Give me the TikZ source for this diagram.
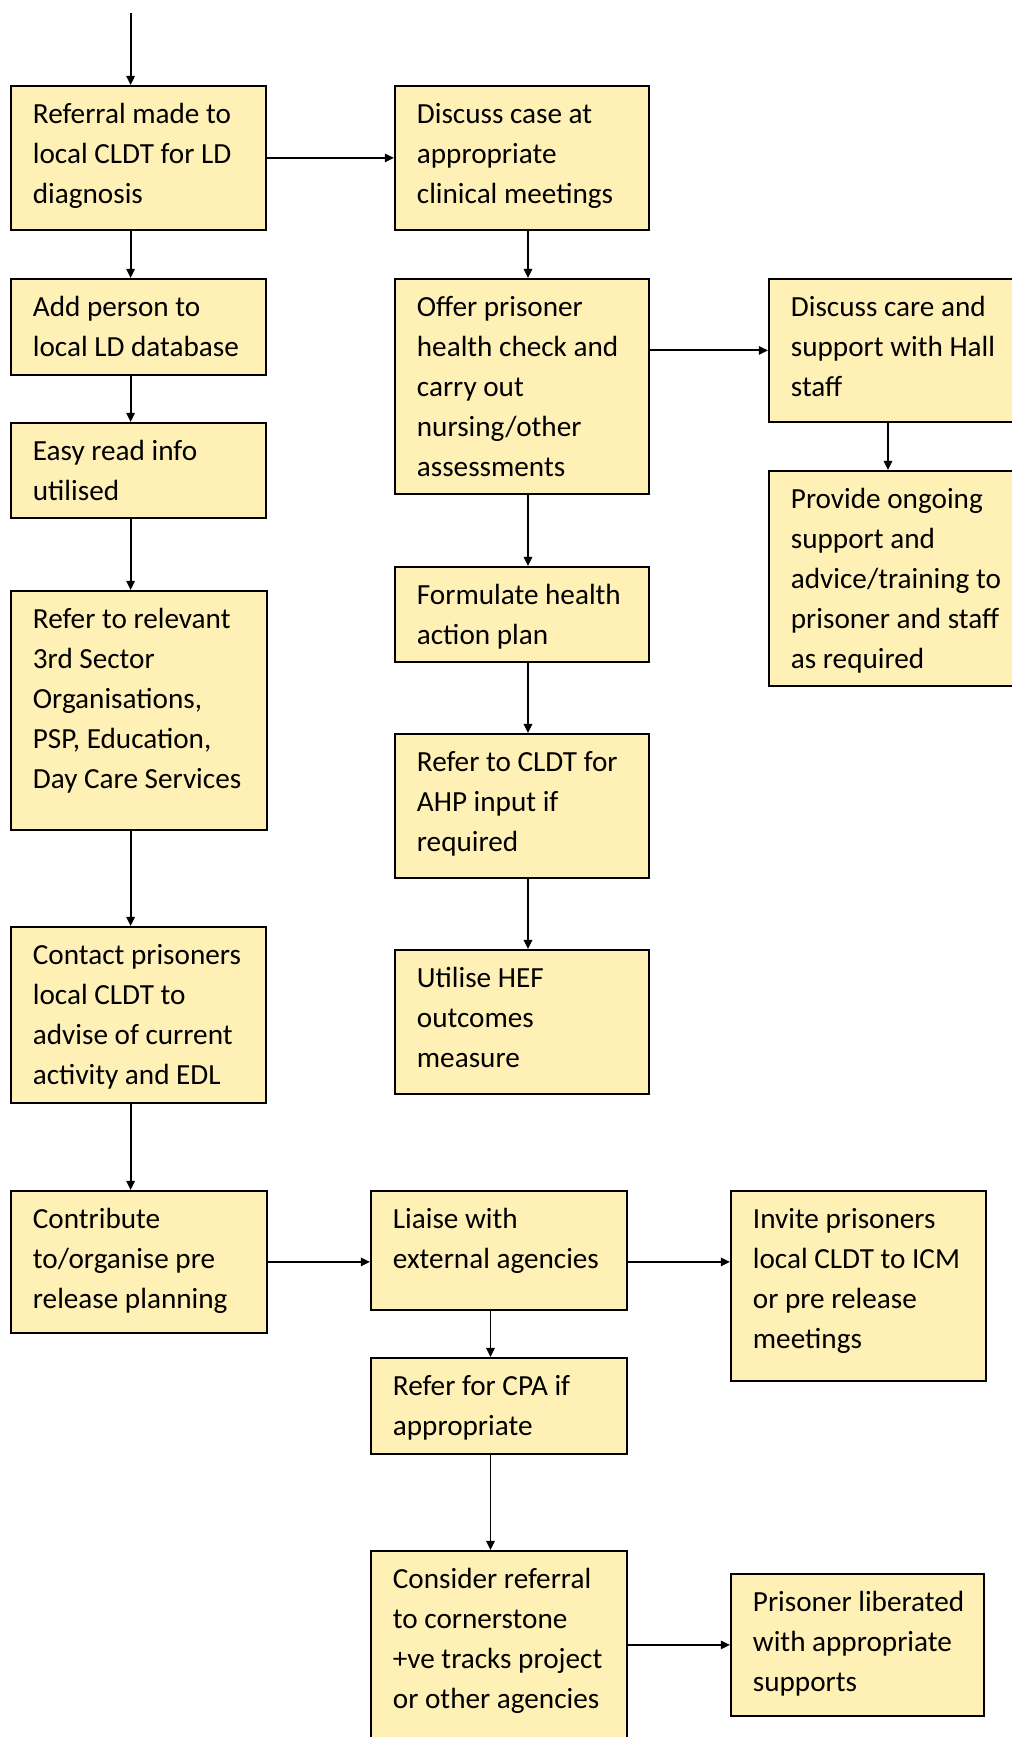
\documentclass[tikz,border=0pt]{standalone}
\usepackage{fontspec}
\setmainfont{Carlito}
\usetikzlibrary{arrows.meta}
\definecolor{boxfill}{HTML}{FFF1B6}
\tikzset{
  stepbox/.style={draw=black, line width=0.9pt, fill=boxfill, anchor=north west,
    inner sep=0pt, font=\fontsize{14.6}{20}\selectfont},
  flow/.style={-{Triangle[length=4.6pt,width=4.2pt]}, line width=0.95pt}
}
% name, x1, y1, x2, y2 (reference pixels), text
\newcommand{\flowstep}[6]{%
  \node[stepbox] (#1) at (#2,#3)
    {\parbox[t][\dimexpr(#5pt-#3pt)/2\relax][t]{\dimexpr(#4pt-#2pt)/2\relax}%
      {\raggedright\leftskip=11pt\vspace*{5pt}\strut #6}};}
\begin{document}
\begin{tikzpicture}[x=0.5pt, y=-0.5pt]
  \useasboundingbox (0,0) rectangle (1012,1737);
  \clip (0,0) rectangle (1012,1737);
  % left column
  \flowstep{referral}{10}{85}{265}{229}{Referral made to\\local CLDT for LD\\diagnosis}
  \flowstep{adddb}{10}{278}{265}{374}{Add person to\\local LD database}
  \flowstep{easyread}{10}{422}{265}{517}{Easy read info\\utilised}
  \flowstep{thirdsec}{10}{590}{266}{829}{Refer to relevant\\3rd Sector\\Organisations,\\PSP, Education,\\Day Care Services}
  \flowstep{contact}{10}{926}{265}{1102}{Contact prisoners\\local CLDT to\\advise of current\\activity and EDL}
  \flowstep{prerel}{10}{1190}{266}{1332}{Contribute\\to/organise pre\\release planning}
  % middle column
  \flowstep{discuss}{394}{85}{648}{229}{Discuss case at\\appropriate\\clinical meetings}
  \flowstep{offer}{394}{278}{648}{493}{Offer prisoner\\health check and\\carry out\\nursing/other\\assessments}
  \flowstep{formulate}{394}{566}{648}{661}{Formulate health\\action plan}
  \flowstep{ahp}{394}{733}{648}{877}{Refer to CLDT for\\AHP input if\\required}
  \flowstep{hef}{394}{949}{648}{1093}{Utilise HEF\\outcomes\\measure}
  \flowstep{liaise}{370}{1190}{626}{1309}{Liaise with\\external agencies}
  \flowstep{cpa}{370}{1357}{626}{1453}{Refer for CPA if\\appropriate}
  \flowstep{consider}{370}{1550}{626}{1760}{Consider referral\\to cornerstone\\+ve tracks project\\or other agencies}
  % right column
  \flowstep{hall}{768}{278}{1030}{421}{Discuss care and\\support with Hall\\staff}
  \flowstep{ongoing}{768}{470}{1030}{685}{Provide ongoing\\support and\\advice/training to\\prisoner and staff\\as required}
  \flowstep{invite}{730}{1190}{985}{1380}{Invite prisoners\\local CLDT to ICM\\or pre release\\meetings}
  \flowstep{liberated}{730}{1573}{983}{1715}{Prisoner liberated\\with appropriate\\supports}
  % arrow lines
  \coordinate (start) at (130.6,13);
  \coordinate (lspine) at (130.6,0);
  \coordinate (mspine) at (528,0);
  \coordinate (bspine) at (490.5,0);
  \coordinate (rspine) at (888,0);
  \draw[flow] (start) -- (referral.north -| lspine);
  \draw[flow] (referral.south -| lspine) -- (adddb.north -| lspine);
  \draw[flow] (adddb.south -| lspine) -- (easyread.north -| lspine);
  \draw[flow] (easyread.south -| lspine) -- (thirdsec.north -| lspine);
  \draw[flow] (thirdsec.south -| lspine) -- (contact.north -| lspine);
  \draw[flow] (contact.south -| lspine) -- (prerel.north -| lspine);
  \draw[flow] (referral.east) -- (discuss.west);
  \draw[flow] (discuss.south -| mspine) -- (offer.north -| mspine);
  \draw[flow] (offer.south -| mspine) -- (formulate.north -| mspine);
  \draw[flow] (formulate.south -| mspine) -- (ahp.north -| mspine);
  \draw[flow] (ahp.south -| mspine) -- (hef.north -| mspine);
  \draw[flow] (offer.east |- hall.west) -- (hall.west);
  \draw[flow] (hall.south -| rspine) -- (ongoing.north -| rspine);
  \draw[flow] (prerel.east) -- (liaise.west |- prerel.east);
  \draw[flow] (liaise.east |- prerel.east) -- (invite.west |- prerel.east);
  \draw[flow] (liaise.south -| bspine) -- (cpa.north -| bspine);
  \draw[flow] (cpa.south -| bspine) -- (consider.north -| bspine);
  \draw[flow] (consider.east |- liberated.west) -- (liberated.west);
\end{tikzpicture}
\end{document}
